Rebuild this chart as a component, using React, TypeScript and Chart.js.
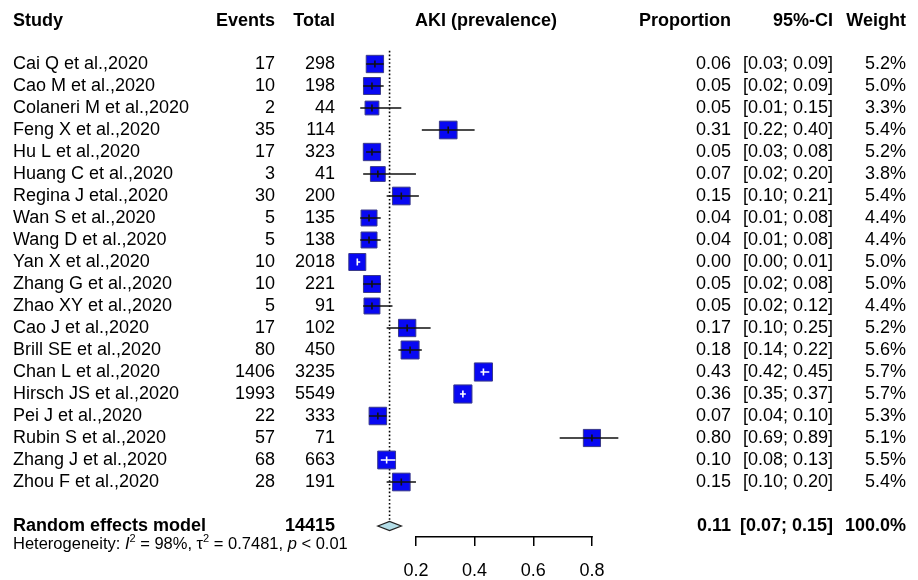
import React, { useEffect, useRef } from 'react';
import { Chart, registerables } from 'chart.js';

Chart.register(...registerables);

const studies = [
  'Cai Q et al.,2020', 'Cao M et al.,2020', 'Colaneri M et al.,2020', 'Feng X et al.,2020',
  'Hu L et al.,2020', 'Huang C et al.,2020', 'Regina J etal.,2020', 'Wan S et al.,2020',
  'Wang D et al.,2020', 'Yan X et al.,2020', 'Zhang G et al.,2020', 'Zhao XY et al.,2020',
  'Cao J et al.,2020', 'Brill SE et al.,2020', 'Chan L et al.,2020', 'Hirsch JS et al.,2020',
  'Pei J et al.,2020', 'Rubin S et al.,2020', 'Zhang J et al.,2020', 'Zhou F et al.,2020',
];
const events = [17, 10, 2, 35, 17, 3, 30, 5, 5, 10, 10, 5, 17, 80, 1406, 1993, 22, 57, 68, 28];
const totals = [298, 198, 44, 114, 323, 41, 200, 135, 138, 2018, 221, 91, 102, 450, 3235, 5549, 333, 71, 663, 191];
const proportions = [0.06, 0.05, 0.05, 0.31, 0.05, 0.07, 0.15, 0.04, 0.04, 0.00, 0.05, 0.05, 0.17, 0.18, 0.43, 0.36, 0.07, 0.80, 0.10, 0.15];
const ciLower = [0.03, 0.02, 0.01, 0.22, 0.03, 0.02, 0.10, 0.01, 0.01, 0.00, 0.02, 0.02, 0.10, 0.14, 0.42, 0.35, 0.04, 0.69, 0.08, 0.10];
const ciUpper = [0.09, 0.09, 0.15, 0.40, 0.08, 0.20, 0.21, 0.08, 0.08, 0.01, 0.08, 0.12, 0.25, 0.22, 0.45, 0.37, 0.10, 0.89, 0.13, 0.20];
const weights = [5.2, 5.0, 3.3, 5.4, 5.2, 3.8, 5.4, 4.4, 4.4, 5.0, 5.0, 4.4, 5.2, 5.6, 5.7, 5.7, 5.3, 5.1, 5.5, 5.4];

const pooledLabel = 'Random effects model';
const pooledTotal = 14415;
const pooledEstimate = 0.11;
const pooledLower = 0.07;
const pooledUpper = 0.15;
const pooledWeight = '100.0%';

const heterogeneityI2 = '98%';
const heterogeneityTau2 = '0.7481';
const heterogeneityP = '< 0.01';

const tickValues = [0.2, 0.4, 0.6, 0.8];
const headers = ['Study', 'Events', 'Total', 'AKI (prevalence)', 'Proportion', '95%-CI', 'Weight'];

const FONT = "'Liberation Sans', Arial, Helvetica, sans-serif";
const ROW_PX = 22;
const ROW1_PX = 64;
const AREA_BOTTOM = 536;

const squareSide = (w: number) => 7.6 * Math.sqrt(w);

const forestPlugin = {
  id: 'forest',
  beforeDatasetsDraw(chart: any) {
    const { ctx, scales } = chart;
    const xs = scales.x;
    const ys = scales.y;
    const x = xs.getPixelForValue(pooledEstimate);
    ctx.save();
    ctx.strokeStyle = '#000';
    ctx.lineWidth = 1.6;
    ctx.setLineDash([1.6, 2.2]);
    ctx.beginPath();
    ctx.moveTo(x, ys.getPixelForValue(0.4));
    ctx.lineTo(x, ys.getPixelForValue(studies.length + 2) - 5);
    ctx.stroke();
    ctx.restore();
  },
  afterDatasetsDraw(chart: any) {
    const { ctx, scales } = chart;
    const xs = scales.x;
    const ys = scales.y;
    ctx.save();
    for (let i = 0; i < studies.length; i++) {
      const y = ys.getPixelForValue(i + 1);
      const x0 = xs.getPixelForValue(ciLower[i]);
      const x1 = xs.getPixelForValue(ciUpper[i]);
      const xc = xs.getPixelForValue(proportions[i]);
      const side = squareSide(weights[i]);
      const inside = x1 - x0 < side - 3;
      ctx.strokeStyle = inside ? '#ffffff' : '#111111';
      ctx.lineWidth = 1.6;
      ctx.beginPath();
      ctx.moveTo(x0, y);
      ctx.lineTo(x1, y);
      ctx.moveTo(xc, y - 3.5);
      ctx.lineTo(xc, y + 3.5);
      ctx.stroke();
    }
    // pooled diamond
    const yd = ys.getPixelForValue(studies.length + 2);
    const dl = xs.getPixelForValue(pooledLower);
    const dr = xs.getPixelForValue(pooledUpper);
    const dc = xs.getPixelForValue(pooledEstimate);
    ctx.fillStyle = '#B4DEE8';
    ctx.strokeStyle = '#222';
    ctx.lineWidth = 1.3;
    ctx.beginPath();
    ctx.moveTo(dl, yd);
    ctx.lineTo(dc, yd - 4.6);
    ctx.lineTo(dr, yd);
    ctx.lineTo(dc, yd + 4.6);
    ctx.closePath();
    ctx.fill();
    ctx.stroke();
    // axis line between first and last tick
    ctx.strokeStyle = '#000';
    ctx.lineWidth = 1.5;
    ctx.beginPath();
    ctx.moveTo(xs.getPixelForValue(tickValues[0]) - 0.75, chart.chartArea.bottom + 0.75);
    ctx.lineTo(xs.getPixelForValue(tickValues[tickValues.length - 1]) + 0.75, chart.chartArea.bottom + 0.75);
    ctx.stroke();
    ctx.restore();
  },
  afterDraw(chart: any) {
    const { ctx, scales } = chart;
    const ys = scales.y;
    const colStudy = 13;
    const colEvents = 275;
    const colTotal = 335;
    const colAki = 486;
    const colProp = 731;
    const colCi = 833;
    const colWeight = 906;
    const txt = (s: string, x: number, y: number, align: string, bold = false, size = 18) => {
      ctx.font = `${bold ? 'bold ' : ''}${size}px ${FONT}`;
      ctx.textAlign = align;
      ctx.textBaseline = 'middle';
      ctx.fillStyle = '#000';
      ctx.fillText(s, x, y);
    };
    ctx.save();
    const yh = ys.getPixelForValue(-1) + 1;
    txt(headers[0], colStudy, yh, 'left', true);
    txt(headers[1], colEvents, yh, 'right', true);
    txt(headers[2], colTotal, yh, 'right', true);
    txt(headers[3], colAki, yh, 'center', true);
    txt(headers[4], colProp, yh, 'right', true);
    txt(headers[5], colCi, yh, 'right', true);
    txt(headers[6], colWeight, yh, 'right', true);
    for (let i = 0; i < studies.length; i++) {
      const y = ys.getPixelForValue(i + 1);
      txt(studies[i], colStudy, y, 'left');
      txt(String(events[i]), colEvents, y, 'right');
      txt(String(totals[i]), colTotal, y, 'right');
      txt(proportions[i].toFixed(2), colProp, y, 'right');
      txt(`[${ciLower[i].toFixed(2)}; ${ciUpper[i].toFixed(2)}]`, colCi, y, 'right');
      txt(`${weights[i].toFixed(1)}%`, colWeight, y, 'right');
    }
    const yp = ys.getPixelForValue(studies.length + 2);
    txt(pooledLabel, colStudy, yp, 'left', true);
    txt(String(pooledTotal), colTotal, yp, 'right', true);
    txt(pooledEstimate.toFixed(2), colProp, yp, 'right', true);
    txt(`[${pooledLower.toFixed(2)}; ${pooledUpper.toFixed(2)}]`, colCi, yp, 'right', true);
    txt(pooledWeight, colWeight, yp, 'right', true);

    // heterogeneity line with rich text
    const base = ys.getPixelForValue(studies.length + 3.05);
    const size = 16.5;
    const sup = 11;
    let x = colStudy;
    ctx.textAlign = 'left';
    ctx.textBaseline = 'alphabetic';
    ctx.fillStyle = '#000';
    const piece = (s: string, style: string, fsize: number, dy = 0) => {
      ctx.font = `${style}${fsize}px ${FONT}`;
      ctx.fillText(s, x, base + dy);
      x += ctx.measureText(s).width;
    };
    piece('Heterogeneity: ', '', size);
    piece('I', 'italic ', size);
    piece('2', '', sup, -7);
    piece(` = ${heterogeneityI2}, `, '', size);
    piece('\u03C4', '', size);
    piece('2', '', sup, -7);
    piece(` = ${heterogeneityTau2}, `, '', size);
    piece('p', 'italic ', size);
    piece(` ${heterogeneityP}`, '', size);
    ctx.restore();
  },
};

export default function App() {
  const canvasRef = useRef<HTMLCanvasElement | null>(null);
  useEffect(() => {
    document.body.style.margin = '0';
    const canvas = canvasRef.current;
    if (!canvas) return;
    const chart = new Chart(canvas, {
      type: 'scatter',
      data: {
        datasets: [
          {
            data: proportions.map((p, i) => ({ x: p, y: i + 1 })),
            pointStyle: 'rect',
            pointRadius: weights.map((w) => squareSide(w) / Math.SQRT2),
            pointHoverRadius: weights.map((w) => squareSide(w) / Math.SQRT2),
            backgroundColor: '#0808F2',
            borderColor: '#3A3A8A',
            pointBorderWidth: 1,
            clip: false,
          } as any,
        ],
      },
      options: {
        responsive: false,
        animation: false,
        layout: {
          autoPadding: false,
          padding: { left: 357.3, right: 918 - 357.3 - 0.9 * 293.3, top: 0, bottom: 0 },
        },
        plugins: { legend: { display: false }, tooltip: { enabled: false } },
        scales: {
          x: {
            type: 'linear',
            position: 'bottom',
            min: 0,
            max: 0.9,
            afterBuildTicks: (s: any) => {
              s.ticks = tickValues.map((v) => ({ value: v }));
            },
            afterFit: (s: any) => {
              s.height = 580 - AREA_BOTTOM;
            },
            grid: {
              display: true,
              drawOnChartArea: false,
              drawTicks: true,
              tickLength: 10,
              color: '#000',
              lineWidth: 1.5,
            },
            border: { display: false },
            ticks: {
              color: '#000',
              padding: 14,
              font: { family: FONT, size: 18 },
              callback: (v: any) => Number(v).toFixed(1),
              maxRotation: 0,
            },
          },
          y: {
            type: 'linear',
            display: false,
            reverse: true,
            min: 1 - ROW1_PX / ROW_PX,
            max: 1 + (AREA_BOTTOM - ROW1_PX) / ROW_PX,
          },
        },
      },
      plugins: [forestPlugin],
    } as any);
    return () => chart.destroy();
  }, []);
  return (
    <div style={{ width: 918, height: 580, background: '#fff' }}>
      <canvas ref={canvasRef} width={918} height={580} style={{ display: 'block' }} />
    </div>
  );
}
